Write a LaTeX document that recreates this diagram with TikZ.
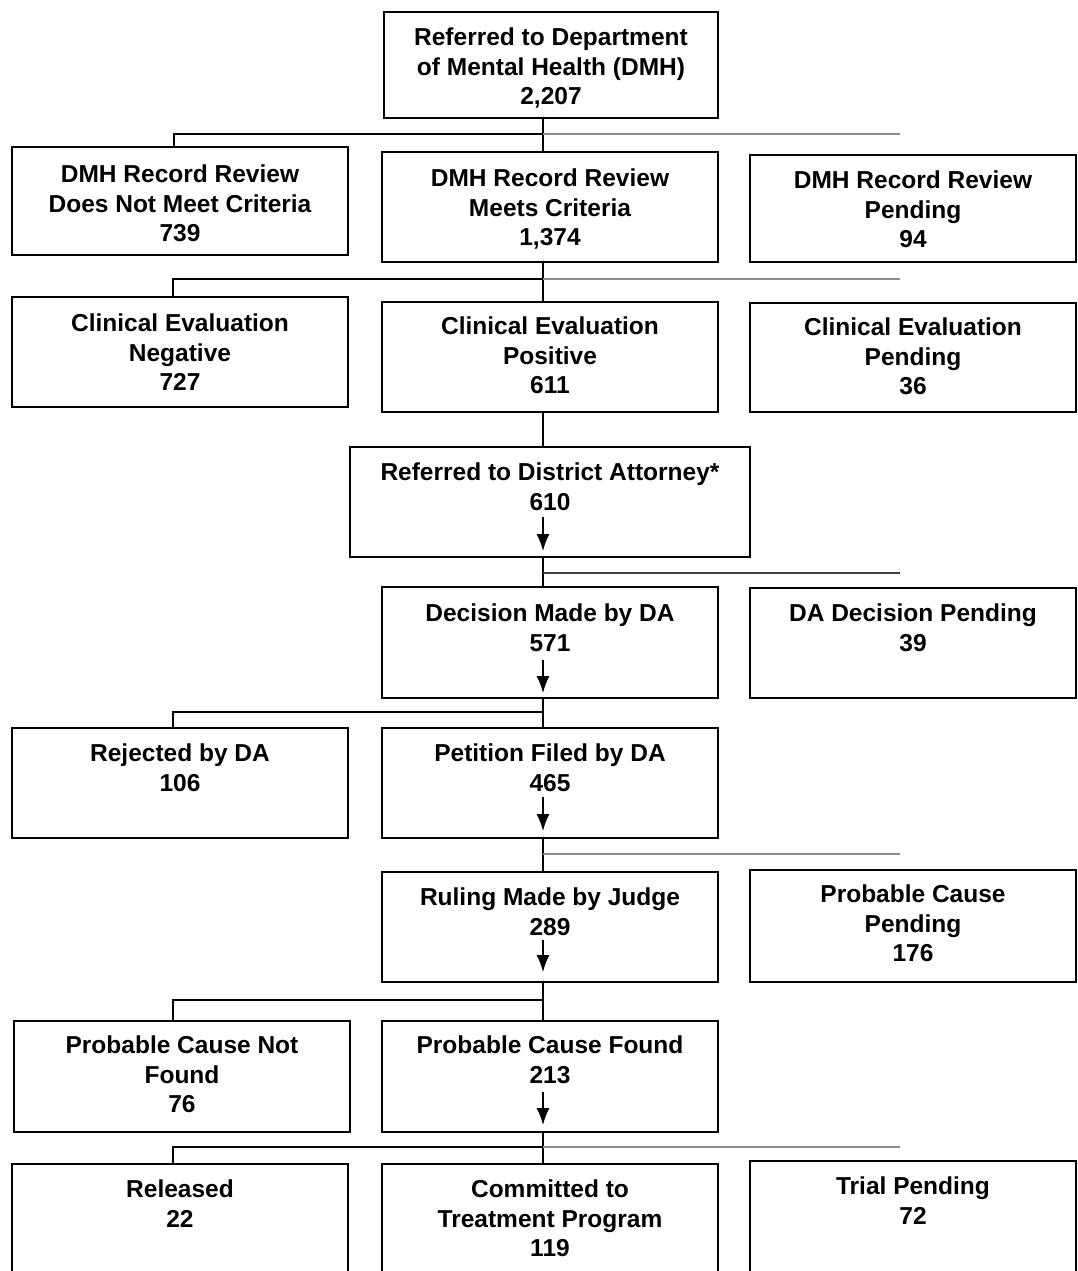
\documentclass[tikz,border=0pt]{standalone}
\usepackage{fontspec}
\setmainfont{Liberation Sans}
\usetikzlibrary{arrows.meta}
\begin{document}
\begin{tikzpicture}[x=1pt,y=-1pt,
  box/.style={draw, line width=2pt, inner sep=0pt, outer sep=0pt},
  txt/.style={font={\fontsize{24.5}{29.5}\selectfont\bfseries}, align=center, anchor=north, inner sep=0pt},
  conn/.style={line width=1.5pt},
  faint/.style={line width=1.2pt, black!45},
  darkfaint/.style={line width=1.3pt, black!75},
  arr/.style={line width=1.5pt, -{Latex[length=17pt,width=13pt]}}]
\useasboundingbox (0,0) rectangle (1078,1271);
\clip (0,0) rectangle (1078,1271);
% boxes
\node[box, minimum width=334, minimum height=106] (top) at (551,65) {};
\node[box, minimum width=336, minimum height=108] (l1) at (180,201) {};
\node[box, minimum width=336, minimum height=110] (m1) at (550,207) {};
\node[box, minimum width=326, minimum height=107] (r1) at (913,208.5) {};
\node[box, minimum width=336, minimum height=110] (l2) at (180,352) {};
\node[box, minimum width=336, minimum height=110] (m2) at (550,357) {};
\node[box, minimum width=326, minimum height=109] (r2) at (913,357.5) {};
\node[box, minimum width=400, minimum height=110] (da) at (550,502) {};
\node[box, minimum width=336, minimum height=111] (dec) at (550,642.5) {};
\node[box, minimum width=326, minimum height=110] (dap) at (913,643) {};
\node[box, minimum width=336, minimum height=110] (rej) at (180,783) {};
\node[box, minimum width=336, minimum height=110] (pet) at (550,783) {};
\node[box, minimum width=336, minimum height=110] (rul) at (550,927) {};
\node[box, minimum width=326, minimum height=112] (pcp) at (913,926) {};
\node[box, minimum width=336, minimum height=111] (pcn) at (182,1076.5) {};
\node[box, minimum width=336, minimum height=111] (pcf) at (550,1076.5) {};
\node[box, minimum width=336, minimum height=122] (rel) at (180,1225) {};
\node[box, minimum width=336, minimum height=122] (com) at (550,1225) {};
\node[box, minimum width=326, minimum height=125] (tri) at (913,1223.5) {};
% texts
\node[txt] (topt) at ([yshift=-16pt]top.north) {Referred to Department\\of Mental Health (DMH)\\2,207};
\node[txt] (l1t) at ([yshift=-18pt]l1.north) {DMH Record Review\\Does Not Meet Criteria\\739};
\node[txt] (m1t) at ([yshift=-17pt]m1.north) {DMH Record Review\\Meets Criteria\\1,374};
\node[txt] (r1t) at ([yshift=-16pt]r1.north) {DMH Record Review\\Pending\\94};
\node[txt] (l2t) at ([yshift=-17pt]l2.north) {Clinical Evaluation\\Negative\\727};
\node[txt] (m2t) at ([yshift=-15pt]m2.north) {Clinical Evaluation\\Positive\\611};
\node[txt] (r2t) at ([yshift=-15pt]r2.north) {Clinical Evaluation\\Pending\\36};
\node[txt] (dat) at ([yshift=-16pt]da.north) {Referred to District Attorney*\\610};
\node[txt] (dect) at ([yshift=-17pt]dec.north) {Decision Made by DA\\571};
\node[txt] (dapt) at ([yshift=-16pt]dap.north) {DA Decision Pending\\39};
\node[txt] (rejt) at ([yshift=-16pt]rej.north) {Rejected by DA\\106};
\node[txt] (pett) at ([yshift=-16pt]pet.north) {Petition Filed by DA\\465};
\node[txt] (rult) at ([yshift=-16pt]rul.north) {Ruling Made by Judge\\289};
\node[txt] (pcpt) at ([yshift=-15pt]pcp.north) {Probable Cause\\Pending\\176};
\node[txt] (pcnt) at ([yshift=-15pt]pcn.north) {Probable Cause Not\\Found\\76};
\node[txt] (pcft) at ([yshift=-15pt]pcf.north) {Probable Cause Found\\213};
\node[txt] (relt) at ([yshift=-16pt]rel.north) {Released\\22};
\node[txt] (comt) at ([yshift=-16pt]com.north) {Committed to\\Treatment Program\\119};
\node[txt] (trit) at ([yshift=-16pt]tri.north) {Trial Pending\\72};
% junction coordinates
\coordinate (j1) at (543,134);
\coordinate (e1) at (900,134);
\coordinate (j2) at (543,279);
\coordinate (e2) at (900,279);
\coordinate (j3) at (543,573);
\coordinate (e3) at (900,573);
\coordinate (j4) at (543,712);
\coordinate (j5) at (543,854);
\coordinate (e5) at (900,854);
\coordinate (j6) at (543,1000);
\coordinate (j7) at (543,1147);
\coordinate (e7) at (900,1147);
% connectors
\draw[conn] (j1 |- top.south) -- (j1 |- m1.north);
\draw[conn] (j1) -| ([xshift=-6pt]l1.north);
\draw[faint] (j1) -- (e1);
\draw[conn] (j2 |- m1.south) -- (j2 |- m2.north);
\draw[conn] (j2) -| ([xshift=-7pt]l2.north);
\draw[faint] (j2) -- (e2);
\draw[conn] (j2 |- m2.south) -- (j2 |- da.north);
\draw[conn] (j3 |- da.south) -- (j3 |- dec.north);
\draw[darkfaint] (j3) -- (e3);
\draw[conn] (j4 |- dec.south) -- (j4 |- pet.north);
\draw[conn] (j4) -| ([xshift=-7pt]rej.north);
\draw[conn] (j5 |- pet.south) -- (j5 |- rul.north);
\draw[faint] (j5) -- (e5);
\draw[conn] (j6 |- rul.south) -- (j6 |- pcf.north);
\draw[conn] (j6) -| ([xshift=-9pt]pcn.north);
\draw[conn] (j7 |- pcf.south) -- (j7 |- com.north);
\draw[conn] (j7) -| ([xshift=-7pt]rel.north);
\draw[faint] (j7) -- (e7);
% arrows inside boxes
\coordinate (a1s) at (543,517); \coordinate (a1e) at (543,551);
\coordinate (a2s) at (543,660); \coordinate (a2e) at (543,693);
\coordinate (a3s) at (543,797); \coordinate (a3e) at (543,831);
\coordinate (a4s) at (543,940); \coordinate (a4e) at (543,972);
\coordinate (a5s) at (543,1092); \coordinate (a5e) at (543,1125);
\draw[arr] (a1s) -- (a1e);
\draw[arr] (a2s) -- (a2e);
\draw[arr] (a3s) -- (a3e);
\draw[arr] (a4s) -- (a4e);
\draw[arr] (a5s) -- (a5e);
\end{tikzpicture}
\end{document}
